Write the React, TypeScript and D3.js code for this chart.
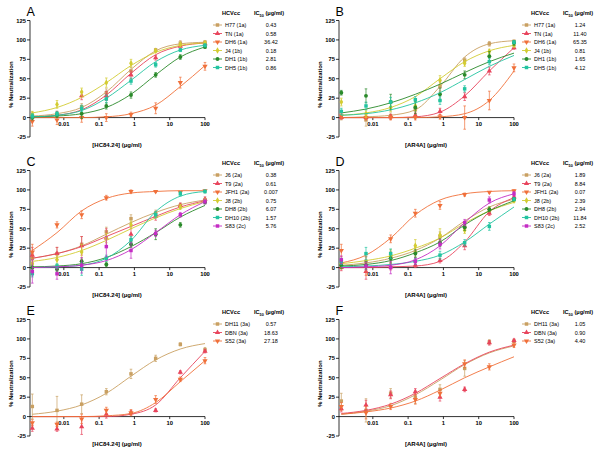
import * as d3 from "d3";

// 5-fold antibody dilutions (µg/ml)
const doses = [0.00128, 0.0064, 0.032, 0.16, 0.8, 4, 20, 100];
const xTicks = [0.01, 0.1, 1, 10, 100];
const yTicks = [-25, 0, 25, 50, 75, 100, 125];

// ---------- panel A: HC84.24 vs genotype 1 ----------
const aStrains = ["H77 (1a)", "TN (1a)", "DH6 (1a)", "J4 (1b)", "DH1 (1b)", "DH5 (1b)"];
const aIC50 = ["0.43", "0.58", "36.42", "0.18", "2.81", "0.86"];
const aMeans = [
  [3, 4, 14, 32, 60, 87, 96, 97],
  [1, 4, 28, 28, 55, 77, 92, 95],
  [-5, -3, 0, 0, 4, 12, 45, 66],
  [4, 17, 33, 45, 70, 86, 94, 96],
  [0, 3, 5, 15, 29, 55, 78, 91],
  [2, 5, 12, 24, 47, 68, 87, 93],
];
const aErrs = [
  [4, 4, 4, 5, 5, 2, 3, 2],
  [3, 4, 5, 6, 5, 3, 3, 2],
  [6, 6, 6, 5, 3, 7, 7, 5],
  [4, 5, 5, 6, 5, 2, 2, 2],
  [3, 3, 6, 4, 4, 3, 3, 2],
  [3, 3, 4, 5, 4, 3, 2, 2],
];
const aFits = [
  [2, 5, 13, 33, 62, 86, 95, 97],
  [1, 3, 10, 29, 57, 81, 92, 96],
  [0, 0, 0, 1, 5, 16, 40, 67],
  [6, 13, 26, 45, 67, 84, 93, 96],
  [1, 2, 5, 13, 30, 55, 78, 91],
  [1, 3, 9, 25, 48, 72, 87, 93],
];

// ---------- panel B: AR4A vs genotype 1 ----------
const bStrains = aStrains;
const bIC50 = ["1.24", "11.40", "65.35", "0.81", "1.65", "4.12"];
const bMeans = [
  [0, -3, 2, 10, 40, 74, 95, 98],
  [0, 0, 1, 3, 8, 27, 60, 90],
  [2, 0, 0, 0, 1, 0, 22, 64],
  [20, 5, 13, 15, 48, 70, 85, 93],
  [32, 28, 20, 13, 30, 55, 79, 96],
  [8, 15, 20, 23, 22, 37, 72, 97],
];
const bErrs = [
  [3, 8, 4, 5, 6, 3, 3, 2],
  [2, 2, 3, 3, 4, 5, 5, 2],
  [3, 3, 3, 3, 3, 15, 12, 5],
  [5, 5, 5, 6, 6, 4, 3, 2],
  [3, 9, 10, 8, 8, 5, 6, 3],
  [4, 5, 6, 4, 5, 4, 4, 2],
];
const bFits = [
  [0, 1, 3, 10, 40, 78, 95, 99],
  [0, 0, 0, 1, 7, 28, 60, 90],
  [0, 0, 0, 0, 1, 5, 22, 60],
  [3, 6, 13, 27, 50, 72, 86, 93],
  [6, 11, 19, 30, 43, 58, 72, 83],
  [3, 5, 10, 19, 32, 49, 66, 80],
];

// ---------- panel C: HC84.24 vs genotype 2 ----------
const cStrains = ["J6 (2a)", "T9 (2a)", "JFH1 (2a)", "J8 (2b)", "DH8 (2b)", "DH10 (2b)", "S83 (2c)"];
const cIC50 = ["0.38", "0.61", "0.007", "0.75", "6.07", "1.57", "5.76"];
const cMeans = [
  [12, 18, 30, 46, 63, 70, 80, 87],
  [16, 18, 28, 38, 43, 66, 80, 88],
  [20, 55, 68, 90, 98, 98, 97, 99],
  [5, 10, 20, 38, 55, 68, 78, 86],
  [0, -2, 8, 4, 30, 43, 55, 84],
  [-8, 2, -2, 12, 36, 68, 95, 98],
  [-5, -8, 3, 27, 22, 44, 68, 85],
];
const cErrs = [
  [6, 8, 10, 6, 5, 4, 3, 2],
  [10, 8, 12, 12, 10, 5, 3, 3],
  [10, 4, 5, 3, 2, 1, 1, 1],
  [6, 6, 10, 6, 5, 4, 3, 2],
  [3, 3, 3, 3, 4, 7, 3, 2],
  [4, 3, 8, 4, 4, 4, 3, 2],
  [15, 7, 10, 13, 10, 4, 3, 3],
];
const cFits = [
  [12, 18, 28, 43, 58, 71, 81, 87],
  [12, 18, 27, 40, 53, 66, 78, 86],
  [22, 45, 73, 89, 96, 98, 99, 99],
  [8, 13, 22, 35, 50, 64, 76, 85],
  [1, 2, 5, 13, 27, 45, 65, 80],
  [0, 1, 3, 12, 35, 72, 92, 98],
  [0, 1, 3, 9, 23, 45, 68, 85],
];

// ---------- panel D: AR4A vs genotype 2 ----------
const dStrains = cStrains;
const dIC50 = ["1.89", "8.84", "0.07", "2.39", "2.94", "11.84", "2.52"];
const dMeans = [
  [3, 8, 15, 20, 40, 52, 73, 88],
  [0, -5, 1, 3, 9, 28, 70, 91],
  [22, 2, 37, 70, 80, 94, 97, 99],
  [5, 3, 15, 28, 42, 48, 75, 86],
  [3, 3, 12, 18, 32, 52, 75, 88],
  [8, 18, 18, 8, 16, 32, 53, 88],
  [10, 2, 0, 8, 30, 58, 87, 95],
];
const dErrs = [
  [5, 6, 6, 6, 6, 4, 3, 2],
  [4, 10, 4, 3, 3, 5, 3, 2],
  [8, 12, 5, 5, 5, 2, 1, 1],
  [6, 6, 8, 8, 8, 4, 3, 2],
  [4, 5, 6, 5, 5, 4, 3, 2],
  [4, 8, 6, 4, 5, 4, 5, 2],
  [5, 5, 8, 4, 6, 4, 4, 3],
];
const dFits = [
  [3, 6, 12, 22, 38, 60, 78, 88],
  [0, 0, 1, 2, 8, 33, 72, 90],
  [6, 16, 38, 68, 87, 95, 98, 99],
  [5, 9, 15, 25, 38, 57, 73, 84],
  [2, 4, 9, 19, 33, 55, 73, 86],
  [1, 2, 4, 8, 16, 33, 56, 78],
  [0, 1, 3, 10, 28, 58, 83, 95],
];

// ---------- panel E: HC84.24 vs genotype 3 ----------
const eStrains = ["DH11 (3a)", "DBN (3a)", "S52 (3a)"];
const eIC50 = ["0.57", "18.63", "27.18"];
const eMeans = [
  [13, 8, 16, 32, 55, 75, 93, 86],
  [-15, -16, -13, 3, 5, 8, 57, 84],
  [-8, -10, -3, 8, 5, 22, 48, 72],
];
const eErrs = [
  [16, 18, 12, 4, 6, 4, 2, 3],
  [4, 3, 10, 5, 3, 2, 2, 2],
  [4, 3, 6, 4, 4, 5, 3, 4],
];
const eFits = [
  [3, 7, 15, 30, 52, 73, 87, 94],
  [0, 0, 0, 0, 3, 15, 50, 84],
  [0, 0, 0, 1, 4, 18, 45, 72],
];

// ---------- panel F: AR4A vs genotype 3 ----------
const fStrains = eStrains;
const fIC50 = ["1.05", "0.90", "4.40"];
const fMeans = [
  [20, 8, 30, 25, 35, 62, 96, 97],
  [10, 15, 28, 32, 25, 35, 95, 98],
  [13, 5, 13, 22, 30, 68, 64, 92],
];
const fErrs = [
  [10, 15, 6, 8, 6, 10, 3, 2],
  [4, 6, 5, 4, 5, 3, 3, 2],
  [5, 8, 4, 6, 4, 5, 4, 3],
];
const fFits = [
  [3, 7, 14, 28, 47, 67, 82, 91],
  [4, 8, 16, 30, 49, 68, 83, 92],
  [3, 6, 11, 20, 34, 50, 64, 77],
];

// styles
const TAN = "#c9a062", RED = "#e8445c", ORANGE = "#f0703a", YELLOW = "#d3cc32";
const GREEN = "#2a8a2a", TEAL = "#22c4a0", MAGENTA = "#c42cc4";
const colors1 = [TAN, RED, ORANGE, YELLOW, GREEN, TEAL];
const colors2 = [TAN, RED, ORANGE, YELLOW, GREEN, TEAL, MAGENTA];
const colors3 = [TAN, RED, ORANGE];
const shapes = [d3.symbolSquare, d3.symbolTriangle, d3.symbolTriangle, d3.symbolDiamond, d3.symbolCircle, d3.symbolSquare, d3.symbolSquare];
const flipped = [false, false, true, false, false, false, false];

const FONT = "'Liberation Sans', Arial, sans-serif";

function Panel({ ox, oy, letter, antibody, strains, ic50, means, errs, fits, colors }: any) {
  const x = d3.scaleLog().domain([0.0011, 100]).range([30, 205]);
  const y = d3.scaleLinear().domain([-25, 125]).range([137, 20.5]);
  const line = d3.line<number>()
    .x((_, i) => x(doses[i]))
    .y(d => y(d))
    .curve(d3.curveMonotoneX);
  const sym = (i: number, size = 12) => d3.symbol().type(shapes[i]).size(size)() as string;
  const rot = (i: number) => (flipped[i] ? " rotate(180)" : "");

  return (
    <g transform={`translate(${ox},${oy})`} fontFamily={FONT}>
      <text x={26.5} y={15.5} fontSize={12.5}>{letter}</text>

      {/* y axis */}
      <line x1={30} x2={30} y1={y(-25)} y2={y(125)} stroke="#000" strokeWidth={0.8} />
      {yTicks.map(t => (
        <g key={t}>
          <line x1={27} x2={30} y1={y(t)} y2={y(t)} stroke="#000" strokeWidth={0.8} />
          <text x={26} y={y(t) + 2.1} fontSize={5.8} fontWeight="bold" textAnchor="end">{t}</text>
        </g>
      ))}
      <text transform={`translate(13,${(y(-25) + y(125)) / 2 + 6}) rotate(-90)`} fontSize={6} fontWeight="bold" textAnchor="middle">
        % Neutralization
      </text>

      {/* x axis at zero */}
      <line x1={30} x2={205} y1={y(0)} y2={y(0)} stroke="#000" strokeWidth={0.8} />
      {xTicks.map(t => (
        <g key={t}>
          <line x1={x(t)} x2={x(t)} y1={y(0)} y2={y(0) + 2.5} stroke="#000" strokeWidth={0.8} />
          <text x={x(t)} y={y(0) + 8.5} fontSize={5.8} fontWeight="bold" textAnchor="middle">{t}</text>
        </g>
      ))}
      <text x={117} y={147} fontSize={6} fontWeight="bold" textAnchor="middle">
        [{antibody}] (μg/ml)
      </text>

      {/* series */}
      {means.map((m: number[], i: number) => (
        <g key={i} stroke={colors[i]} fill={colors[i]}>
          <path d={line(fits[i]) as string} fill="none" strokeWidth={0.9} />
          {m.map((v, j) => (
            <g key={j} transform={`translate(${x(doses[j])},${y(v)})`}>
              <line y1={y(v + errs[i][j]) - y(v)} y2={y(v - errs[i][j]) - y(v)} strokeWidth={0.7} />
              <line x1={-1.3} x2={1.3} y1={y(v + errs[i][j]) - y(v)} y2={y(v + errs[i][j]) - y(v)} strokeWidth={0.7} />
              <line x1={-1.3} x2={1.3} y1={y(v - errs[i][j]) - y(v)} y2={y(v - errs[i][j]) - y(v)} strokeWidth={0.7} />
              <path d={sym(i)} transform={rot(i).trim()} stroke="none" />
            </g>
          ))}
        </g>
      ))}

      {/* legend */}
      <text x={222} y={15} fontSize={5.6} fontWeight="bold">HCVcc</text>
      <text x={254} y={15} fontSize={5.6} fontWeight="bold">
        IC<tspan fontSize={3.8} dy={1.5}>50</tspan><tspan dy={-1.5}> (μg/ml)</tspan>
      </text>
      {strains.map((s: string, i: number) => {
        const ly = 25 + i * 8.5;
        return (
          <g key={s}>
            <line x1={213} x2={222} y1={ly} y2={ly} stroke={colors[i]} strokeWidth={0.9} />
            <path d={sym(i)} transform={`translate(217.5,${ly})${rot(i)}`} fill={colors[i]} />
            <text x={225} y={ly + 2} fontSize={5.5}>{s}</text>
            <text x={271} y={ly + 2} fontSize={5.5} textAnchor="middle">{ic50[i]}</text>
          </g>
        );
      })}
    </g>
  );
}

export default function App() {
  const colX = [0, 309];
  const rowY = [0, 150, 299];
  return (
    <svg width={600} height={451} style={{ position: "absolute", left: 0, top: 0, background: "#fff" }}>
      <Panel ox={colX[0]} oy={rowY[0]} letter="A" antibody="HC84.24" strains={aStrains} ic50={aIC50} means={aMeans} errs={aErrs} fits={aFits} colors={colors1} />
      <Panel ox={colX[1]} oy={rowY[0]} letter="B" antibody="AR4A" strains={bStrains} ic50={bIC50} means={bMeans} errs={bErrs} fits={bFits} colors={colors1} />
      <Panel ox={colX[0]} oy={rowY[1]} letter="C" antibody="HC84.24" strains={cStrains} ic50={cIC50} means={cMeans} errs={cErrs} fits={cFits} colors={colors2} />
      <Panel ox={colX[1]} oy={rowY[1]} letter="D" antibody="AR4A" strains={dStrains} ic50={dIC50} means={dMeans} errs={dErrs} fits={dFits} colors={colors2} />
      <Panel ox={colX[0]} oy={rowY[2]} letter="E" antibody="HC84.24" strains={eStrains} ic50={eIC50} means={eMeans} errs={eErrs} fits={eFits} colors={colors3} />
      <Panel ox={colX[1]} oy={rowY[2]} letter="F" antibody="AR4A" strains={fStrains} ic50={fIC50} means={fMeans} errs={fErrs} fits={fFits} colors={colors3} />
    </svg>
  );
}
